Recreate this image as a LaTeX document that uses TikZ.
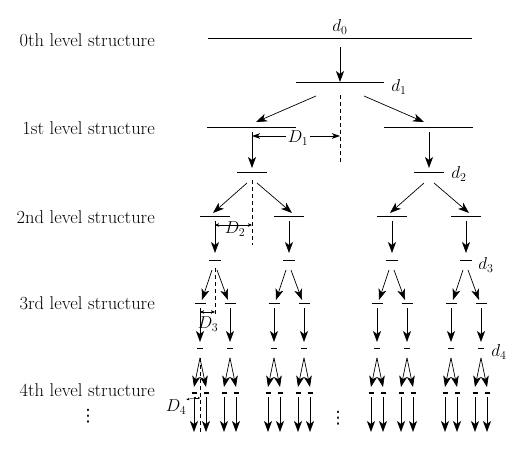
\documentclass[tikz,border=0pt]{standalone}
\usepackage{fontspec}
\newfontfamily\dvfont{DejaVu Sans}
\usetikzlibrary{arrows.meta,calc}
\begin{document}
\begin{tikzpicture}[x=1pt,y=-1pt,
  lvl/.style={line width=1pt},
  arr/.style={line width=0.7pt,-{Stealth[length=11pt,width=8pt,inset=3pt]}},
  dimarr/.style={line width=0.6pt,{Stealth[length=8pt,width=5.5pt,inset=2pt]}-{Stealth[length=8pt,width=5.5pt,inset=2pt]}},
  dimsmall/.style={line width=0.5pt,{Stealth[length=4pt,width=3.5pt,inset=1pt]}-{Stealth[length=4pt,width=3.5pt,inset=1pt]}},
  dimtiny/.style={line width=0.4pt,{Stealth[length=2pt,width=2pt,inset=0.5pt]}-{Stealth[length=2pt,width=2pt,inset=0.5pt]}},
  dashline/.style={line width=0.7pt,dash pattern=on 4pt off 3pt},
  lab/.style={font=\fontsize{18.5}{21}\selectfont,inner sep=0pt,anchor=east},
  mlab/.style={font=\fontsize{17.28}{20}\selectfont,inner sep=0pt},
  dots/.style={font=\dvfont\fontsize{17}{20}\selectfont,inner sep=0pt}
]
\useasboundingbox (0,0) rectangle (525,454);

% level texts
\node[lab] (t0) at (155,40) {0th level structure};
\node[lab] (t1txt) at (155,128) {1st level structure};
\node[lab] (t2) at (155,217) {2nd level structure};
\node[lab] (t3) at (155,303) {3rd level structure};
\node[lab] (t4) at (155,390) {4th level structure};
\node[dots] (vd1) at (88,416) {⋮};
\node[dots] (vd2) at (338,418) {⋮};

% coordinates
\coordinate (r0) at (340,39);
\coordinate (t1) at (340,83);
\coordinate (c1l) at (252,128);
\coordinate (c1r) at (429,128);
\coordinate (s2a) at (252,173);
\coordinate (s2b) at (429,173);
\foreach \x [count=\k] in {215,289,392,466} {
  \coordinate (c2-\k) at (\x,217);
  \coordinate (s3-\k) at (\x,261);
  \pgfmathtruncatemacro\ia{2*\k-1}
  \pgfmathtruncatemacro\ib{2*\k}
  \coordinate (c3-\ia) at (\x-15,304);
  \coordinate (c3-\ib) at (\x+15,304);
  \coordinate (s4-\ia) at (\x-15,349);
  \coordinate (s4-\ib) at (\x+15,349);
}

% level 0 and 1
\draw[lvl] ($(r0)+(-132,0)$) -- ($(r0)+(132,0)$);
\node[mlab] (d0) at (340,27) {$d_0$};
\draw[arr] ($(r0)+(0,8)$) -- ($(t1)+(0,-1)$);
\draw[lvl] ($(t1)+(-44,0)$) -- ($(t1)+(44,0)$);
\node[mlab] (d1) at (399,87) {$d_1$};
\draw[arr] ($(t1)+(-24,13)$) -- ($(c1l)+(4,-6)$);
\draw[arr] ($(t1)+(24,13)$) -- ($(c1r)+(-5,-6)$);
\draw[dashline] ($(t1)+(0,12)$) -- ($(t1)+(0,80)$);
\draw[lvl] ($(c1l)+(-45,0)$) -- ($(c1l)+(44,0)$);
\draw[lvl] ($(c1r)+(-45,0)$) -- ($(c1r)+(44,0)$);
\draw[dimarr] ($(c1l)+(0,8)$) -- node[mlab,fill=white,inner sep=2pt,xshift=2pt,yshift=-2pt] (D1) {$D_1$} ($(t1)+(0,53)$);

% level 1 -> 2
\draw[arr] ($(c1l)+(0,4)$) -- ($(s2a)+(0,-5)$);
\draw[arr] ($(c1r)+(0,4)$) -- ($(s2b)+(0,-5)$);
\draw[lvl] ($(s2a)+(-15,0)$) -- ($(s2a)+(15,0)$);
\draw[lvl] ($(s2b)+(-15,0)$) -- ($(s2b)+(15,0)$);
\node[mlab] (d2) at (459,174) {$d_2$};
\draw[dashline] ($(s2a)+(0,7)$) -- ($(s2a)+(0,72)$);
\foreach \p/\i/\j in {s2a/1/2, s2b/3/4} {
  \draw[arr] ($(\p)+(-5,10)$) -- ($(c2-\i)+(-2,-4)$);
  \draw[arr] ($(\p)+(5,10)$) -- ($(c2-\j)+(3,-4)$);
}
\draw[dimsmall] ($(c2-1)+(0,8)$) -- ($(s2a)+(0,52)$);
\node[mlab] (D2) at (235,229) {$D_2$};

% level 2 -> 3
\foreach \k in {1,...,4} {
  \pgfmathtruncatemacro\ia{2*\k-1}
  \pgfmathtruncatemacro\ib{2*\k}
  \draw[lvl] ($(c2-\k)+(-15,0)$) -- ($(c2-\k)+(15,0)$);
  \draw[arr] ($(c2-\k)+(0,4)$) -- ($(s3-\k)+(0,-8)$);
  \draw[lvl] ($(s3-\k)+(-6,0)$) -- ($(s3-\k)+(6,0)$);
  \draw[arr] ($(s3-\k)+(-3,9)$) -- ($(c3-\ia)+(2,-4)$);
  \draw[arr] ($(s3-\k)+(2,9)$) -- ($(c3-\ib)+(-2,-4)$);
}
\node[mlab] (d3) at (486,265) {$d_3$};
\draw[dashline] ($(s3-1)+(0,7)$) -- ($(s3-1)+(0,55)$);
\draw[dimsmall] ($(c3-1)+(0,8)$) -- ($(s3-1)+(0,51)$);
\node[mlab] (D3) at (208,324) {$D_3$};

% level 3 -> 4
\foreach \j in {1,...,8} {
  \pgfmathtruncatemacro\ia{2*\j-1}
  \pgfmathtruncatemacro\ib{2*\j}
  \draw[lvl] ($(c3-\j)+(-5.5,0)$) -- ($(c3-\j)+(5.5,0)$);
  \draw[arr] ($(c3-\j)+(0,4)$) -- ($(s4-\j)+(0,-7)$);
  \draw[lvl] ($(s4-\j)+(-3,0)$) -- ($(s4-\j)+(3,0)$);
  \coordinate (c4-\ia) at ($(s4-\j)+(-6,44)$);
  \coordinate (c4-\ib) at ($(s4-\j)+(6,44)$);
  \coordinate (e4-\ia) at ($(s4-\j)+(-6,83)$);
  \coordinate (e4-\ib) at ($(s4-\j)+(6,83)$);
  \draw[arr] ($(s4-\j)+(0,9)$) -- ($(c4-\ia)+(0,-6)$);
  \draw[arr] ($(s4-\j)+(0,9)$) -- ($(c4-\ib)+(0,-6)$);
}
\node[mlab] (d4) at (499,352) {$d_4$};
\foreach \m in {1,...,16} {
  \draw[lvl] ($(c4-\m)+(-2.5,0)$) -- ($(c4-\m)+(2.5,0)$);
  \draw[arr] ($(c4-\m)+(0,4)$) -- (e4-\m);
}
\draw[dashline] ($(s4-1)+(0,9)$) -- ($(s4-1)+(0,83)$);
\draw[dimtiny] ($(c4-1)+(0,5)$) -- ($(s4-1)+(0,49)$);
\node[mlab] (D4) at (176,407) {$D_4$};
\draw[line width=0.4pt,-{Stealth[length=3pt,width=2.5pt]}] ($(c4-1)+(0,5)$) -- (D4.north east);
\end{tikzpicture}
\end{document}
